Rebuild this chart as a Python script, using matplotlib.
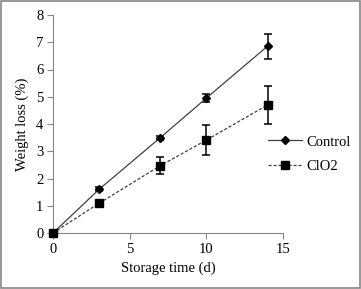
import matplotlib
matplotlib.use('Agg')
import matplotlib.pyplot as plt
from matplotlib.patches import Rectangle

days = [0, 3, 7, 10, 14]
control = [0, 1.6, 3.5, 4.95, 6.86]
control_err = [0, 0.07, 0.07, 0.16, 0.46]
clo2 = [0, 1.09, 2.47, 3.41, 4.7]
clo2_err = [0, 0, 0.32, 0.55, 0.7]

plt.rcParams['font.family'] = ['Liberation Serif', 'DejaVu Serif']
plt.rcParams['font.size'] = 10.5

fig = plt.figure(figsize=(3.61, 2.89), dpi=100)
ax = fig.add_axes([53 / 361, 1 - 233 / 289, 230 / 361, 218 / 289])


def draw(x, y, err, **kw):
    line, = ax.plot(x, y, color='#404040', lw=0.9, mfc='black', mec='black',
                    clip_on=False, zorder=3, **kw)
    xe = [a for a, e in zip(x, err) if e > 0]
    ye = [b for b, e in zip(y, err) if e > 0]
    ee = [e for e in err if e > 0]
    ax.errorbar(xe, ye, yerr=ee, fmt='none', ecolor='black', elinewidth=1.1,
                capsize=2.7, capthick=1.1, zorder=2)
    return line


l1 = draw(days, control, control_err, marker='D', ms=3.8, label='Control')
l2 = draw(days, clo2, clo2_err, marker='s', ms=6, ls=(0, (2.5, 1.5)), label='ClO2')

ax.set_xlim(0, 15)
ax.set_ylim(0, 8)
ax.set_xticks([0, 5, 10, 15])
ax.set_yticks(range(9))
for s in ['top', 'right']:
    ax.spines[s].set_visible(False)
for s in ['left', 'bottom']:
    ax.spines[s].set_color('#868686')
ax.tick_params(direction='out', length=4, color='#868686', width=0.8, pad=3)
ax.set_xlabel('Storage time (d)', labelpad=4)
ax.set_ylabel('Weight loss (%)', labelpad=5)

fig.legend([l1, l2], ['Control', 'ClO2'], loc='center left',
           bbox_to_anchor=(268 / 361, 1 - 154 / 289), frameon=False,
           borderaxespad=0, borderpad=0,
           handlelength=2.3, labelspacing=0.75, handletextpad=0.35)

fig.patches.append(Rectangle((0.002, 0.002), 0.995, 0.995, transform=fig.transFigure,
                             fill=False, edgecolor='#868686', lw=1.2))

fig.savefig('out.png', dpi=100)
